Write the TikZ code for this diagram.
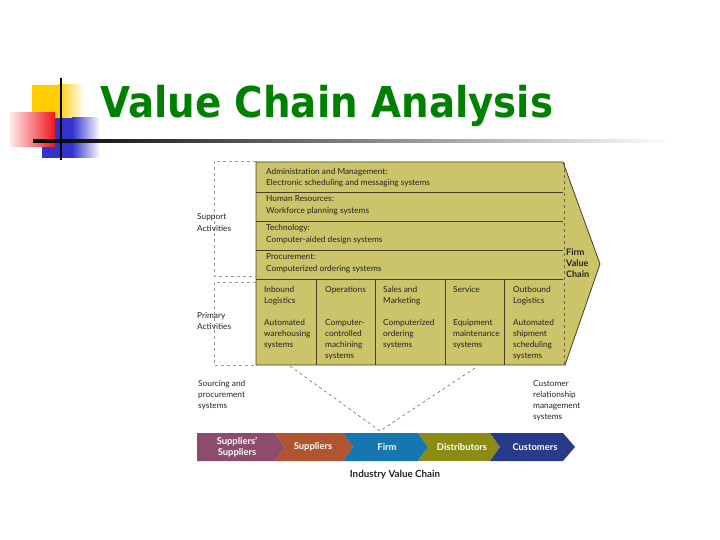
\documentclass[tikz,border=0pt]{standalone}
\usepackage{fontspec}
\setmainfont{Lato}
\newfontfamily\titlefont{DejaVu Sans}
\definecolor{titlegreen}{RGB}{0,128,0}
\definecolor{vcfill}{RGB}{204,196,106}
\definecolor{vcline}{RGB}{70,62,30}
\definecolor{txt}{RGB}{35,35,30}
\definecolor{logoyellow}{RGB}{255,204,0}
\definecolor{logoblue}{RGB}{51,51,204}
\definecolor{logored}{RGB}{240,20,30}
\definecolor{cpink}{RGB}{142,76,108}
\definecolor{corange}{RGB}{176,85,48}
\definecolor{cblue}{RGB}{21,118,176}
\definecolor{colive}{RGB}{140,140,20}
\definecolor{cnavy}{RGB}{40,58,138}
\newlength{\tw}
\settowidth{\tw}{\titlefont\bfseries\fontsize{42.5}{50}\selectfont Value Chain Analysis}
\pgfmathsetmacro{\tsx}{453/\tw}
\begin{document}
\begin{tikzpicture}[x=1pt,y=-1pt,
  lbl/.style={anchor=base west,inner sep=0pt,text=txt,align=left,font=\fontsize{8.3}{11}\selectfont},
  suplbl/.style={lbl,font=\fontsize{8.3}{12}\selectfont},
  firmlbl/.style={anchor=base west,inner sep=0pt,text=txt,align=left,font=\bfseries\fontsize{9}{11}\selectfont},
  chaintxt/.style={inner sep=0pt,text=white,align=center,font=\bfseries\fontsize{9.4}{11}\selectfont},
  bracket/.style={draw=gray!80,dashed,line width=0.6pt},
  link/.style={draw=gray!70!black,dashed,line width=0.5pt},
  sep/.style={draw=vcline,line width=0.7pt}]
\useasboundingbox (0,0) rectangle (720,540);
% logo
\fill[logoyellow] (32,85) rectangle (58,120);
\shade[left color=logoyellow,right color=white] (58,85) rectangle (84,120);
\fill[logoblue] (42,118) rectangle (72,158);
\shade[left color=logoblue,right color=white] (72,118) rectangle (100,158);
\shade[left color=red!8,right color=logored] (10,113) rectangle (55,147);
\shade[left color=black,right color=white] (33,140) rectangle (673,142.5);
\draw[line width=2pt] (61,78) -- (61,160);
% title
\node[anchor=base west,inner sep=0pt,text=titlegreen] (title) at (100,118)
  {\scalebox{\tsx}[1]{\titlefont\bfseries\fontsize{42.5}{50}\selectfont Value Chain Analysis}};
% firm value chain
\draw[draw=vcline,fill=vcfill,line width=0.8pt] (256,162) -- (563,162) -- (600,264) -- (565,365) -- (256,365) -- cycle;
\draw[draw=gray!60!vcline,dashed,line width=0.5pt] (564,163) -- (564,364);
\foreach \yy in {192,221,250,279} \draw[sep] (256,\yy) -- (563,\yy);
\foreach \xx in {316,375,445,504} \draw[sep] (\xx,279) -- (\xx,365);
% support brackets
\draw[bracket] (256,161) -- (214,161) -- (214,276) -- (256,276);
\draw[bracket] (256,282) -- (214,282) -- (214,365) -- (256,365);
% support texts (anchor = baseline of last line)
\node[suplbl] (admin) at (266,186) {Administration and Management:\\Electronic scheduling and messaging systems};
\node[suplbl] (hr) at (266,214) {Human Resources:\\Workforce planning systems};
\node[suplbl] (tech) at (266,242.5) {Technology:\\Computer-aided design systems};
\node[suplbl] (proc) at (266,271) {Procurement:\\Computerized ordering systems};
% primary texts
\node[lbl] (inb) at (264,303) {Inbound\\Logistics};
\node[lbl] (ops) at (325,292) {Operations};
\node[lbl] (sales) at (383,303) {Sales and\\Marketing};
\node[lbl] (serv) at (453,292) {Service};
\node[lbl] (outb) at (513,303) {Outbound\\Logistics};
\node[lbl] (inbs) at (264,347) {Automated\\warehousing\\systems};
\node[lbl] (opss) at (325,358) {Computer-\\controlled\\machining\\systems};
\node[lbl] (saless) at (383,347) {Computerized\\ordering\\systems};
\node[lbl] (servs) at (453,347) {Equipment\\maintenance\\systems};
\node[lbl] (outbs) at (513,358) {Automated\\shipment\\scheduling\\systems};
\node[firmlbl] (firmvc) at (566,277) {Firm\\Value\\Chain};
% left labels
\node[lbl] (supp) at (197,231) {Support\\Activities};
\node[lbl] (prim) at (197,329) {Primary\\Activities};
\node[lbl] (sourcing) at (198,408) {Sourcing and\\procurement\\systems};
\node[lbl] (crm) at (533,419) {Customer\\relationship\\management\\systems};
% links to firm
\coordinate (linkA) at (290,366);
\coordinate (apex) at (380,431);
\coordinate (linkB) at (478,366);
\draw[link] (linkA) -- (apex) -- (linkB);
% industry value chain
\def\ct{433} \def\cb{461} \def\cm{447}
\fill[cpink] (197,\ct) -- (275,\ct) -- (285,\cm) -- (275,\cb) -- (197,\cb) -- cycle;
\fill[corange] (275,\ct) -- (343,\ct) -- (353,\cm) -- (343,\cb) -- (275,\cb) -- (285,\cm) -- cycle;
\fill[cblue] (343,\ct) -- (418,\ct) -- (428,\cm) -- (418,\cb) -- (343,\cb) -- (353,\cm) -- cycle;
\fill[colive] (418,\ct) -- (490,\ct) -- (500,\cm) -- (490,\cb) -- (418,\cb) -- (428,\cm) -- cycle;
\fill[cnavy] (490,\ct) -- (563,\ct) -- (575,\cm) -- (563,\cb) -- (490,\cb) -- (500,\cm) -- cycle;
\node[chaintxt] (ss) at (237,447) {Suppliers'\\Suppliers};
\node[chaintxt] (sup) at (313,447) {Suppliers};
\node[chaintxt] (firm) at (387,447) {Firm};
\node[chaintxt] (dist) at (462,447) {Distributors};
\node[chaintxt] (cust) at (535,447) {Customers};
\node[anchor=base,inner sep=0pt,text=txt,font=\bfseries\fontsize{9.8}{10}\selectfont] (ivc) at (395,477) {Industry Value Chain};
\end{tikzpicture}
\end{document}
